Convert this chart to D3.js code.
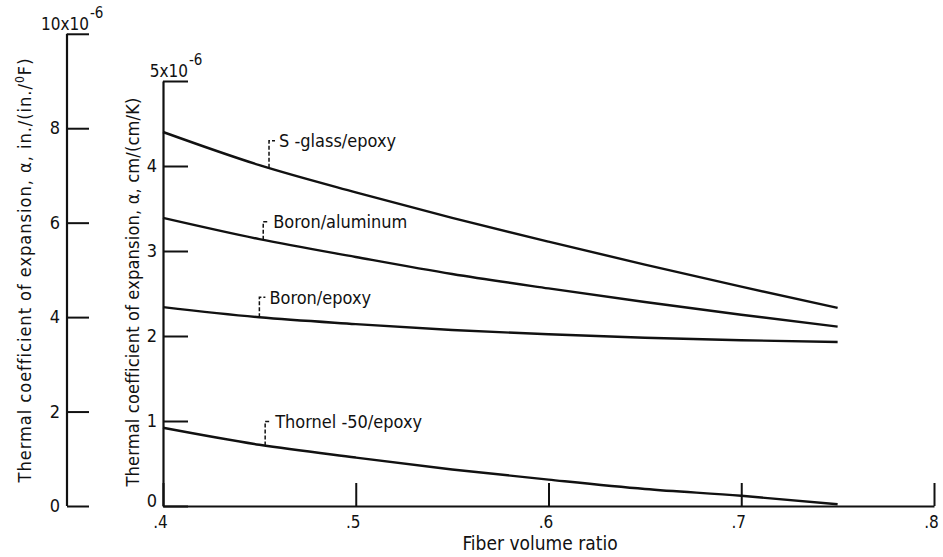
<!DOCTYPE html>
<html>
<head>
<meta charset="utf-8">
<script src="https://cdn.jsdelivr.net/npm/d3@7"></script>
<style>
  body { margin: 0; background: #fff; }
  svg text { font-family: "DejaVu Sans Condensed", "Liberation Sans Narrow", sans-serif; fill: #111; }
</style>
</head>
<body>
<svg id="chart"></svg>
<script>
// values (alpha in 10^-6 cm/(cm/K))
const fiberRatio = [0.40, 0.45, 0.50, 0.55, 0.60, 0.65, 0.70, 0.75]
const sGlassEpoxy = [4.40, 4.01, 3.69, 3.39, 3.11, 2.84, 2.58, 2.33]
const boronAluminum = [3.39, 3.14, 2.93, 2.73, 2.56, 2.40, 2.25, 2.11]
const boronEpoxy = [2.34, 2.22, 2.14, 2.07, 2.02, 1.98, 1.95, 1.93]
const thornelEpoxy = [0.92, 0.72, 0.57, 0.43, 0.31, 0.20, 0.12, 0.02]
const seriesNames = ["S -glass/epoxy", "Boron/aluminum", "Boron/epoxy", "Thornel -50/epoxy"]
const leaderAt = [0.455, 0.452, 0.450, 0.453]   // fiber ratio where each label leader touches its curve

const xTicks = [0.4, 0.5, 0.6, 0.7, 0.8]
const siTicks = [0, 1, 2, 3, 4, 5]
const usTicks = [0, 2, 4, 6, 8, 10]
const usPerSi = 1.8

function drawChart(svgID) {
    let svg = d3.select(svgID)
    svg.attr("width", 943).attr("height", 557)

    let x = d3.scaleLinear().domain([0.4, 0.8]).range([163, 934])
    let y = d3.scaleLinear().domain([0, 5]).range([506, 81])
    let yUS = d3.scaleLinear().domain([0, 5 * usPerSi]).range([506, 81])

    // outer axis, in./(in./F)
    let usAxis = d3.axisLeft(yUS)
        .tickValues(usTicks)
        .tickSize(-22)
        .tickPadding(7)
        .tickSizeOuter(0)
        .tickFormat(d => d == 10 ? "" : d)
    let gUS = svg.append("g").attr("transform", "translate(67,0)").call(usAxis)
    gUS.select(".domain").attr("d", "M0," + yUS(0) + "V" + yUS(10))
    styleAxis(gUS, 18)
    topLabel(gUS, 22, yUS(10), "10x10")

    // inner axis, cm/(cm/K)
    let siAxis = d3.axisLeft(y)
        .tickValues(siTicks)
        .tickSize(-25)
        .tickPadding(6)
        .tickSizeOuter(0)
        .tickFormat(d => d == 5 ? "" : d)
    let gSI = svg.append("g").attr("transform", "translate(163,0)").call(siAxis)
    styleAxis(gSI, 18)
    gSI.selectAll(".tick text").filter(d => d == 0).attr("dy", "0.05em")
    topLabel(gSI, 25, y(5), "5x10")

    // x axis with ticks pointing up
    let xAxis = d3.axisBottom(x)
        .tickValues(xTicks)
        .tickSize(-23)
        .tickPadding(10)
        .tickSizeOuter(0)
        .tickFormat(d => "." + Math.round(d * 10))
    let gX = svg.append("g").attr("transform", "translate(0," + y(0) + ")").call(xAxis)
    styleAxis(gX, 17)
    gX.selectAll(".tick text").attr("dx", -3)

    // axis titles
    svg.append("text")
        .attr("transform", "translate(540,550)")
        .attr("text-anchor", "middle")
        .style("font-size", "19px")
        .text("Fiber volume ratio")

    let tUS = svg.append("text")
        .attr("transform", "translate(31,270) rotate(-90)")
        .attr("text-anchor", "middle")
        .style("font-size", "18px")
        .style("letter-spacing", "1px")
    tUS.append("tspan").text("Thermal coefficient of expansion, \u03b1, in./(in./")
    tUS.append("tspan").attr("dy", -7).style("font-size", "12px").text("0")
    tUS.append("tspan").attr("dy", 7).text("F)")

    svg.append("text")
        .attr("transform", "translate(139,292) rotate(-90)")
        .attr("text-anchor", "middle")
        .style("font-size", "18px")
        .style("letter-spacing", "0.2px")
        .text("Thermal coefficient of expansion, \u03b1, cm/(cm/K)")

    // curves
    let allSeries = [sGlassEpoxy, boronAluminum, boronEpoxy, thornelEpoxy]
    let line = d3.line()
        .x((d, i) => x(fiberRatio[i]))
        .y(d => y(d))
        .curve(d3.curveMonotoneX)

    allSeries.forEach(function (vals, i) {
        svg.append("path")
            .datum(vals)
            .attr("fill", "none")
            .attr("stroke", "#111")
            .attr("stroke-width", 2.4)
            .attr("d", line)

        // dashed leader up from the curve, then the name
        let onCurve = d3.scaleLinear().domain(fiberRatio).range(vals)
        let lx = x(leaderAt[i])
        let ly = y(onCurve(leaderAt[i]))
        let rise = [27, 18, 20, 24][i]
        svg.append("path")
            .attr("fill", "none")
            .attr("stroke", "#111")
            .attr("stroke-width", 1.5)
            .attr("stroke-dasharray", "4,2")
            .attr("d", "M" + lx + "," + ly + "V" + (ly - rise) + "h6")
        svg.append("text")
            .attr("x", lx + 10)
            .attr("y", ly - rise)
            .attr("dy", "0.35em")
            .style("font-size", "18px")
            .text(seriesNames[i])
    })
}

function styleAxis(g, fontSize) {
    g.selectAll(".domain").attr("stroke", "#111").attr("stroke-width", 2.2)
    g.selectAll(".tick line").attr("stroke", "#111").attr("stroke-width", 2)
    g.selectAll(".tick text")
        .style("font-size", fontSize + "px")
        .style("font-family", "DejaVu Sans Condensed, sans-serif")
        .attr("fill", "#111")
}

// top-of-axis label like 10x10^-6 sitting on the top tick
function topLabel(g, right, yTop, base) {
    let b = g.append("text")
        .attr("x", right)
        .attr("y", yTop - 4)
        .attr("text-anchor", "end")
        .style("font-size", "17px")
        .text(base)
    let box = b.node().getBBox()
    g.append("text")
        .attr("x", box.x + box.width + 1)
        .attr("y", yTop - 16)
        .attr("text-anchor", "start")
        .style("font-size", "15px")
        .text("-6")
}

drawChart("#chart")
</script>
</body>
</html>
